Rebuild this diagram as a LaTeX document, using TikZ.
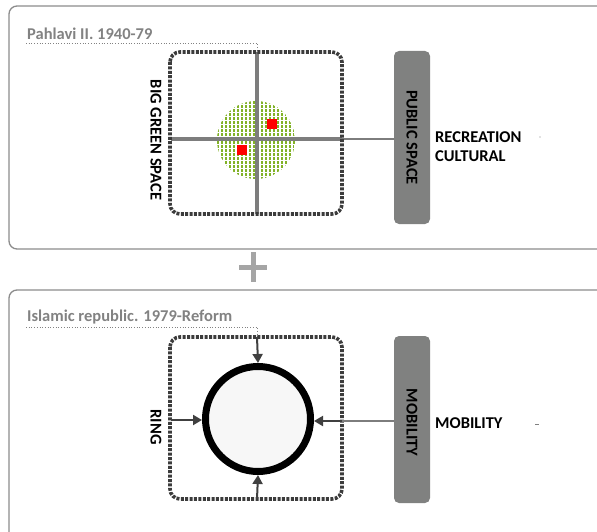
\documentclass[tikz,border=0pt]{standalone}
\usepackage{fontspec}
\setmainfont{Carlito}
\usetikzlibrary{arrows.meta}
\definecolor{panelgray}{RGB}{140,140,140}
\definecolor{titlegray}{RGB}{130,130,130}
\definecolor{boxgray}{RGB}{128,129,128}
\definecolor{dotgray}{RGB}{60,60,60}
\definecolor{linegray}{RGB}{125,125,125}
\definecolor{greendot}{RGB}{130,178,40}
\definecolor{plusgray}{RGB}{165,165,165}
\tikzset{
  panel/.style={draw=panelgray, line width=1.3pt, rounded corners=8pt},
  titletext/.style={text=titlegray, font=\bfseries\fontsize{16.5}{19}\selectfont, anchor=base west, inner sep=0pt},
  underline/.style={draw=titlegray, line width=0.7pt, dotted},
  dotbox/.style={draw=dotgray, line width=3.6pt, dash pattern=on 3pt off 1.4pt, rounded corners=10pt},
  sidebox/.style={fill=boxgray, rounded corners=5pt, minimum width=36pt, inner sep=0pt},
  vtext/.style={rotate=-90, font=\bfseries\fontsize{16.5}{19}\selectfont, inner sep=0pt},
  label/.style={font=\bfseries\fontsize{16.5}{19}\selectfont, anchor=west, inner sep=0pt, align=left},
  crossline/.style={draw=linegray, line width=3.4pt},
  arr/.style={draw=black!75, line width=2pt, -{Triangle[length=9pt,width=10pt]}},
}
\begin{document}
\begin{tikzpicture}[x=1pt,y=-1pt]
\useasboundingbox (0,0) rectangle (597,532);
\begin{scope}
\clip (0,0) rectangle (597,532);
% ---------- top panel ----------
\draw[panel] (9,6) rectangle (620,249);
\node[titletext] (t1) at (27,40) {Pahlavi II. 1940-79};
\coordinate (u1a) at (26,43);
\coordinate (u1b) at (257,43);
\coordinate (u1c) at (257,52);
\draw[underline] (u1a) -- (u1b) -- (u1c);

% green dotted circle
\begin{scope}
\clip (256,140) circle (39);
\foreach \i in {0,...,20}{
  \foreach \j in {0,...,20}{
    \fill[greendot] ({216.5+\i*4},{101+\j*4}) rectangle ++(2.7,3.0);
  }
}
\end{scope}
\node[draw=none, minimum size=78pt, circle] (gc) at (256,140) {};

% cross lines
\coordinate (vt) at (257,52);
\coordinate (vb) at (257,214);
\coordinate (hl) at (171,139);
\draw[crossline] (vt) -- (vb);
\node[sidebox, minimum height=173pt] (ps) at (412,137.5) {};
\draw[crossline] (hl) -- (342,139);
\draw[draw=linegray, line width=2.2pt] (342,139) -- (ps.west |- 0,139);

% red squares
\fill[red] (267,119) rectangle (277,129);
\fill[red] (237,145) rectangle (247,155);

\draw[dotbox] (170,52) rectangle (342,214);
\node[vtext] (bgs) at (156,140) {BIG GREEN SPACE};
\node[vtext] at (ps.center) {PUBLIC SPACE};
\node[label] (rec) at (435,137) {RECREATION};
\node[label] (cul) at (435,156) {CULTURAL};
\fill[black!50] (540,137) circle (0.6);

% ---------- plus ----------
\node (plus) at (253,267) {};
\fill[plusgray] (239,264.5) rectangle (267,269.5);
\fill[plusgray] (250.5,252) rectangle (255.5,282);

% ---------- bottom panel ----------
\draw[panel] (9,290) rectangle (620,545);
\node[titletext] (t2) at (27,321) {Islamic republic. 1979-Reform};
\coordinate (u2a) at (26,327);
\coordinate (u2b) at (257,327);
\coordinate (u2c) at (257,337);
\draw[underline] (u2a) -- (u2b) -- (u2c);

\draw[dotbox] (170,337) rectangle (342,499);
\node[circle, draw=black, line width=7pt, fill=black!3, minimum size=105pt, inner sep=0pt] (ring) at (258,419) {};
\node[sidebox, minimum height=167pt] (mb) at (412,419.5) {};
\node[vtext] at (412,422.5) {MOBILITY};

\coordinate (at) at (257,337);
\coordinate (ab) at (257,499);
\coordinate (al) at (171,420);
\draw[arr] (at) -- (ring.north);
\draw[arr] (ab) -- (ring.south);
\draw[arr] (al) -- (ring.west |- 0,420);
\draw[draw=linegray, line width=2pt] (mb.west |- 0,421) -- (342,421);
\draw[arr] (342,421) -- (ring.east |- 0,421);

\node[vtext] (ringlbl) at (156,427) {RING};
\node[label] (mob) at (435,423) {MOBILITY};
\draw[black!50, line width=0.7pt] (535,424) -- (539,424);
\end{scope}
\end{tikzpicture}
\end{document}
